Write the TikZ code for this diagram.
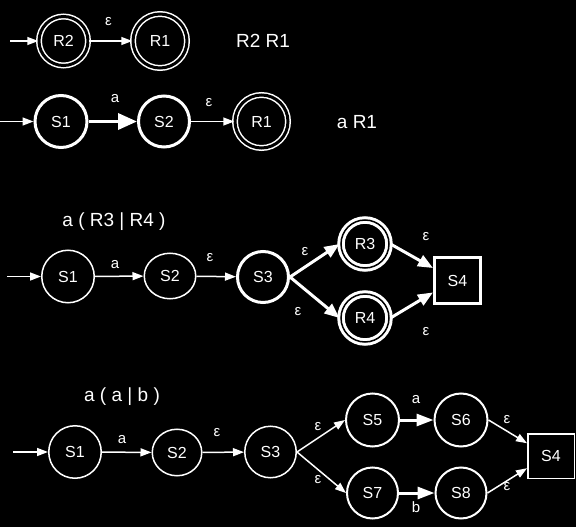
\documentclass[tikz,border=0pt]{standalone}
\usepackage{fontspec}
\setmainfont{Liberation Sans}
\usetikzlibrary{arrows.meta,shapes.geometric}
\begin{document}
\begin{tikzpicture}[x=1pt,y=-1pt,
  every node/.style={text=white, inner sep=0pt, font=\fontsize{16}{18}\selectfont},
  st/.style={circle, draw=white, line width=1.5pt, minimum size=#1},
  st/.default=52.5pt,
  stk/.style={circle, draw=white, line width=3pt, minimum size=#1},
  stk/.default=52pt,
  stm/.style={circle, draw=white, line width=2pt, minimum size=#1},
  stm/.default=53pt,
  ell/.style={ellipse, draw=white, line width=1.5pt},
  dbl/.style={circle, draw=white, double=black, line width=1.5pt, double distance=3pt, minimum size=#1},
  dblk/.style={circle, draw=white, double=black, line width=3pt, double distance=1.5pt, minimum size=#1},
  lbl/.style={font=\fontsize{15}{17}\selectfont},
  ttl/.style={font=\fontsize{19}{21}\selectfont},
  thinarr/.style={draw=white, line width=1.5pt, -{Triangle[length=11pt,width=8pt]}},
  medarr/.style={draw=white, line width=3pt, -{Triangle[length=15pt,width=12pt]}},
  bigarr/.style={draw=white, line width=3.5pt, -{Triangle[length=19pt,width=16pt]}},
  rowarr/.style={draw=white, line width=3pt, -{Triangle[length=17pt,width=12pt]}}
]
\fill[black] (0,0) rectangle (576,527);
\useasboundingbox (0,0) rectangle (576,527);

% Row 1
\coordinate (i1) at (10,41);
\node[dbl=49pt] (R2a) at (63.5,41) {R2};
\node[dbl=54pt] (R1a) at (160,41) {R1};
\node[ttl] (t1) at (263,41) {R2 R1};
\draw[thinarr] (i1) -- (R2a);
\draw[thinarr] (R2a) -- (R1a);
\node[lbl] (l1) at (108.5,21.5) {ε};

% Row 2
\coordinate (i2) at (0,121.5);
\node[stk=52pt] (S1b) at (61,121.5) {S1};
\node[stk=51pt] (S2b) at (164,121.5) {S2};
\node[dbl=53pt] (R1b) at (261.5,121.5) {R1};
\node[ttl] (t2) at (357,122) {a R1};
\draw[thinarr] (i2) -- (S1b);
\draw[bigarr] (S1b) -- (S2b);
\draw[thinarr] (S2b) -- (R1b);
\node[lbl] (l2a) at (115,99) {a};
\node[lbl] (l2b) at (209,103) {ε};

% Row 3
\node[ttl] (t3) at (114,222) {a ( R3 | R4 )};
\coordinate (i3) at (7,276.5);
\node[st] (S1c) at (68,276.5) {S1};
\node[ell, minimum width=51.5pt, minimum height=45.5pt] (S2c) at (170,276) {S2};
\node[stk=51pt] (S3c) at (263,277) {S3};
\node[dblk=48pt] (R3c) at (365,244) {R3};
\node[dblk=48pt] (R4c) at (365,318) {R4};
\node[draw=white, line width=3pt, minimum size=46pt] (S4c) at (457.5,280.5) {S4};
\draw[thinarr] (i3) -- (S1c);
\draw[thinarr] (S1c) -- (S2c);
\draw[thinarr] (S2c) -- (S3c);
\draw[medarr] (S3c.east) -- (R3c.west);
\draw[medarr] (S3c.east) -- (R4c.west);
\draw[medarr] (R3c.east) -- (S4c.153);
\draw[medarr] (R4c.east) -- (S4c.206);
\node[lbl] (l3a) at (115,264.5) {a};
\node[lbl] (l3b) at (210,258) {ε};
\node[lbl] (l3c) at (305,252) {ε};
\node[lbl] (l3d) at (298,312) {ε};
\node[lbl] (l3e) at (426,237) {ε};
\node[lbl] (l3f) at (426,332) {ε};

% Row 4
\node[ttl] (t4) at (122,397) {a ( a | b )};
\coordinate (i4) at (13,452);
\node[st] (S1d) at (75,452) {S1};
\node[ell, minimum width=49.5pt, minimum height=46.5pt] (S2d) at (177,452.5) {S2};
\node[st=51.5pt] (S3d) at (270.5,452) {S3};
\node[stm] (S5d) at (372.5,420) {S5};
\node[stm] (S6d) at (461,420) {S6};
\node[stm=51pt] (S7d) at (372.5,493) {S7};
\node[stm=51pt] (S8d) at (461,493) {S8};
\node[draw=white, line width=1.5pt, minimum width=46.5pt, minimum height=44.5pt] (S4d) at (551,456) {S4};
\draw[thinarr] (i4) -- (S1d);
\draw[thinarr] (S1d) -- (S2d);
\draw[thinarr] (S2d) -- (S3d);
\draw[thinarr] (S3d.east) -- (S5d.west);
\draw[thinarr] (S3d.east) -- (S7d.west);
\draw[rowarr] (S5d) -- (S6d);
\draw[rowarr] (S7d) -- (S8d);
\draw[thinarr] (S6d.east) -- (S4d.152);
\draw[thinarr] (S8d.east) -- (S4d.207);
\node[lbl] (l4a) at (122,440) {a};
\node[lbl] (l4b) at (217,433) {ε};
\node[lbl] (l4c) at (318,427) {ε};
\node[lbl] (l4d) at (318,480) {ε};
\node[lbl] (l4e) at (416,400) {a};
\node[lbl] (l4f) at (416,507) {b};
\node[lbl] (l4g) at (507,420) {ε};
\node[lbl] (l4h) at (507,487) {ε};
\end{tikzpicture}
\end{document}
